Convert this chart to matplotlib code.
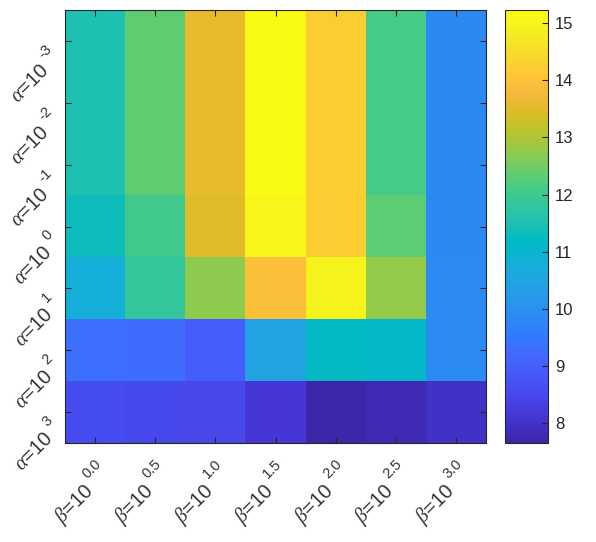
import matplotlib
matplotlib.use("Agg")
import matplotlib.pyplot as plt
import matplotlib.transforms as mtransforms
from matplotlib.colors import LinearSegmentedColormap
import numpy as np

# exponents on the two axes
alpha_exp = ['-3', '-2', '-1', '0', '1', '2', '3']
beta_exp = ['0.0', '0.5', '1.0', '1.5', '2.0', '2.5', '3.0']

# one row per alpha, one value per beta
row_a_m3 = [11.50, 12.34, 13.60, 15.23, 14.25, 12.10, 9.85]
row_a_m2 = [11.50, 12.34, 13.60, 15.23, 14.25, 12.10, 9.85]
row_a_m1 = [11.50, 12.34, 13.60, 15.23, 14.25, 12.10, 9.85]
row_a_0 = [11.35, 12.05, 13.50, 15.00, 14.25, 12.30, 9.85]
row_a_1 = [10.78, 11.85, 12.72, 13.93, 14.95, 12.80, 9.90]
row_a_2 = [9.32, 9.30, 8.98, 10.45, 11.20, 11.10, 9.90]
row_a_3 = [8.60, 8.55, 8.50, 8.13, 7.65, 7.77, 8.00]

# MATLAB parula (every other entry of parula(64))
parula_pts = [
    (0.2422, 0.1504, 0.6603), (0.2578, 0.1818, 0.7511), (0.2706, 0.2147, 0.8364),
    (0.2783, 0.2559, 0.8991), (0.2813, 0.3006, 0.9414), (0.2795, 0.3447, 0.9717),
    (0.2699, 0.3892, 0.9906), (0.2440, 0.4358, 0.9988), (0.1963, 0.4847, 0.9892),
    (0.1786, 0.5289, 0.9682), (0.1687, 0.5703, 0.9359), (0.1460, 0.6091, 0.9079),
    (0.1248, 0.6459, 0.8883), (0.0952, 0.6798, 0.8598), (0.0297, 0.7082, 0.8163),
    (0.0067, 0.7312, 0.7660), (0.0964, 0.7500, 0.7120), (0.1717, 0.7670, 0.6554),
    (0.2161, 0.7843, 0.5923), (0.2906, 0.7973, 0.5188), (0.3909, 0.8029, 0.4354),
    (0.5044, 0.7993, 0.3480), (0.6174, 0.7876, 0.2612), (0.7242, 0.7698, 0.1910),
    (0.8203, 0.7498, 0.1535), (0.9035, 0.7330, 0.1774), (0.9728, 0.7298, 0.2394),
    (0.9970, 0.7659, 0.2199), (0.9892, 0.8136, 0.1885), (0.9676, 0.8639, 0.1643),
    (0.9597, 0.9135, 0.1423), (0.9691, 0.9606, 0.1064), (0.9769, 0.9839, 0.0805),
]
parula = LinearSegmentedColormap.from_list('parula', parula_pts, N=256)

plt.rcParams['font.family'] = ['Liberation Sans', 'DejaVu Sans']
plt.rcParams['mathtext.fontset'] = 'custom'
plt.rcParams['mathtext.rm'] = 'Liberation Sans'
plt.rcParams['mathtext.it'] = 'Liberation Serif:italic'

txt_col = '#262626'
lbl_col = '#333333'
fs_base = 14.5   # "alpha=10" part
fs_exp = 10.5    # raised exponent
data = np.array([row_a_m3, row_a_m2, row_a_m1, row_a_0, row_a_1, row_a_2, row_a_3])

W, H = 596, 542
fig = plt.figure(figsize=(W / 100, H / 100), dpi=100)
ax = fig.add_axes([65 / W, 1 - 443 / H, 421 / W, 433 / H])
im = ax.imshow(data, cmap=parula, aspect='auto', interpolation='nearest',
               vmin=data.min(), vmax=data.max())

ax.set_xticks(np.arange(len(beta_exp)))
ax.set_yticks(np.arange(len(alpha_exp)))
ax.set_xticklabels([])
ax.set_yticklabels([])
ax.tick_params(direction='in', length=4, width=0.8, color=txt_col,
               top=True, right=True)
for s in ax.spines.values():
    s.set_color(txt_col)
    s.set_linewidth(0.8)

renderer = fig.canvas.get_renderer()


def text_width(s, size):
    t = fig.text(0, 0, s, fontsize=size)
    w = t.get_window_extent(renderer).width
    t.remove()
    return w


c45 = np.cos(np.pi / 4)
gap = 4.0     # px between base and exponent, along the text
rise = 13.0   # px the exponent is lifted


def tick_label(base_trans, x, y, dx, dy, base, expo):
    # (dx, dy): pixel offset of the label's right end from the tick
    we = text_width(expo, fs_exp)
    tr_e = base_trans + mtransforms.ScaledTranslation(dx / 100, dy / 100, fig.dpi_scale_trans)
    ax.text(x, y, expo, transform=tr_e, fontsize=fs_exp, color=lbl_col,
            rotation=45, rotation_mode='anchor', ha='right', va='baseline')
    along = we + gap
    bx = dx - along * c45 + rise * c45
    by = dy - along * c45 - rise * c45
    tr_b = base_trans + mtransforms.ScaledTranslation(bx / 100, by / 100, fig.dpi_scale_trans)
    ax.text(x, y, base, transform=tr_b, fontsize=fs_base, color=lbl_col,
            rotation=45, rotation_mode='anchor', ha='right', va='baseline')


xtrans = mtransforms.blended_transform_factory(ax.transData, ax.transAxes)
for i, e in enumerate(beta_exp):
    tick_label(xtrans, i, 0, 7, -22, r'$\beta$=10', e)

ytrans = mtransforms.blended_transform_factory(ax.transAxes, ax.transData)
for i, e in enumerate(alpha_exp):
    tick_label(ytrans, 0, i, -12, -9, r'$\alpha$=10', e)

cax = fig.add_axes([505 / W, 1 - 443 / H, 43 / W, 433 / H])
cb = fig.colorbar(im, cax=cax)
cb.set_ticks(np.arange(8, 16))
cb.ax.tick_params(direction='in', length=4, width=0.8, color=txt_col,
                  labelsize=12, labelcolor=txt_col, pad=5)
cb.outline.set_edgecolor(txt_col)
cb.outline.set_linewidth(0.8)

fig.savefig('out.png', dpi=100, facecolor='white')
